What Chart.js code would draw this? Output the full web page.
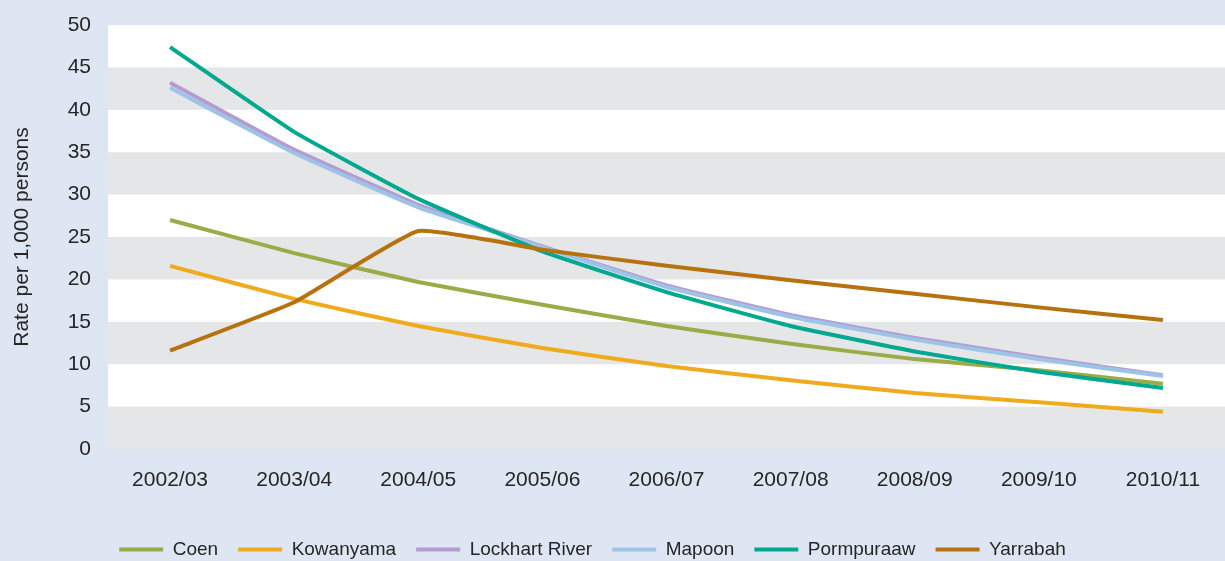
<!DOCTYPE html>
<html>
<head>
<meta charset="utf-8">
<script src="https://cdn.jsdelivr.net/npm/chart.js@4.4.0/dist/chart.umd.min.js"></script>
<style>
  html, body { margin: 0; padding: 0; background: #dfe6f3; }
  #wrap { width: 1225px; height: 561px; position: relative; }
</style>
</head>
<body>
<div id="wrap"><canvas id="myChart"></canvas></div>
<script>
// años
var labels = ['2002/03', '2003/04', '2004/05', '2005/06', '2006/07', '2007/08', '2008/09', '2009/10', '2010/11'];

// tasas por 1.000 personas
var coen       = [27.0, 23.1, 19.7, 17.0, 14.5, 12.4, 10.6, 9.3, 7.7];
var kowanyama  = [21.6, 17.7, 14.5, 11.9, 9.8, 8.1, 6.6, 5.5, 4.4];
var lockhart   = [43.2, 35.3, 28.8, 23.9, 19.3, 15.8, 13.1, 10.8, 8.7];
var mapoon     = [42.6, 34.9, 28.5, 23.8, 19.1, 15.6, 12.9, 10.6, 8.6];
var pormpuraaw = [47.4, 37.4, 29.5, 23.3, 18.5, 14.5, 11.5, 9.1, 7.2];
var yarrabah   = [11.6, 17.3, 25.7, 23.5, 21.6, 19.9, 18.3, 16.7, 15.2];

var yTicks = [0, 5, 10, 15, 20, 25, 30, 35, 40, 45, 50];

var series = [
  ['Coen', coen, '#9aab48'],
  ['Kowanyama', kowanyama, '#f0aa1e'],
  ['Lockhart River', lockhart, '#b49bd0'],
  ['Mapoon', mapoon, '#9dc3e6'],
  ['Pormpuraaw', pormpuraaw, '#00a88f'],
  ['Yarrabah', yarrabah, '#b5720e']
];

var datasets = series.map(function(s, i) {
  return {
    label: s[0],
    data: s[1],
    borderColor: s[2],
    backgroundColor: s[2],
    borderWidth: 4,
    pointRadius: 0,
    tension: 0.12,
    order: series.length - i // las últimas series quedan encima, como en Excel
  };
});

// bandas grises alternas en el área del gráfico
var bandas = {
  id: 'bandas',
  beforeDatasetsDraw: function(chart) {
    var ctx = chart.ctx, a = chart.chartArea, y = chart.scales.y;
    ctx.save();
    ctx.fillStyle = '#ffffff';
    ctx.fillRect(a.left, a.top, a.right - a.left, a.bottom - a.top);
    ctx.fillStyle = '#e5e6e8';
    for (var i = 0; i < yTicks.length - 1; i += 2) {
      var y0 = y.getPixelForValue(yTicks[i]);
      var y1 = y.getPixelForValue(yTicks[i + 1]);
      ctx.fillRect(a.left, y1, a.right - a.left, y0 - y1);
    }
    ctx.restore();
  }
};

var ctx = document.getElementById('myChart').getContext('2d');
var myChart = new Chart(ctx, {
  type: 'line',
  data: { labels: labels, datasets: datasets },
  plugins: [bandas],
  options: {
    responsive: true,
    maintainAspectRatio: false,
    animation: false,
    // margen izquierdo negativo para que la leyenda quede algo a la izquierda
    layout: { padding: { top: 25, right: 0, bottom: -8, left: -40 } },
    scales: {
      x: {
        offset: true,
        grid: { display: false, drawTicks: false },
        border: { display: false },
        ticks: { padding: 19, color: '#262626', font: { family: 'Liberation Sans', size: 21 } },
        afterFit: function(scale) { scale.height = 71; }
      },
      y: {
        min: 0,
        max: 50,
        grid: { display: false, drawTicks: false },
        border: { display: false },
        afterBuildTicks: function(scale) {
          scale.ticks = yTicks.map(function(v) { return { value: v }; });
        },
        // lineHeight bajo para que la etiqueta de arriba no empuje el área hacia abajo
        ticks: { padding: 17, color: '#262626', font: { family: 'Liberation Sans', size: 21, lineHeight: 0.75 } },
        title: {
          display: true,
          text: 'Rate per 1,000 persons',
          color: '#262626',
          padding: { top: 50, bottom: 0 },
          font: { family: 'Liberation Sans', size: 21 }
        },
        afterFit: function(scale) { scale.width = 148; }
      }
    },
    plugins: {
      legend: {
        position: 'bottom',
        labels: {
          boxWidth: 44,
          boxHeight: 4,
          padding: 20,
          color: '#262626',
          font: { family: 'Liberation Sans', size: 19 },
          sort: function(a, b) { return a.datasetIndex - b.datasetIndex; },
          generateLabels: function(chart) {
            var items = Chart.defaults.plugins.legend.labels.generateLabels(chart);
            items.forEach(function(it) { it.lineWidth = 0; });
            return items;
          }
        }
      },
      tooltip: { enabled: false }
    }
  }
});
</script>
</body>
</html>
